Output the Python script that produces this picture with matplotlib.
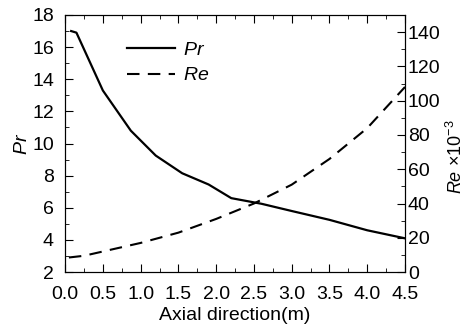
import numpy as np
import matplotlib.pyplot as plt
from matplotlib.ticker import MultipleLocator

plt.rcParams['font.family'] = ['Liberation Sans', 'DejaVu Sans']
plt.rcParams['mathtext.fontset'] = 'custom'
plt.rcParams['mathtext.it'] = 'Liberation Sans:italic'
plt.rcParams['mathtext.rm'] = 'Liberation Sans'

# Pr along the axial direction
x_pr = [0.08, 0.15, 0.5, 0.87, 1.2, 1.55, 1.9, 2.2, 2.6, 3.0, 3.5, 4.0, 4.5]
pr = [17.0, 16.9, 13.3, 10.8, 9.25, 8.15, 7.45, 6.6, 6.25, 5.8, 5.25, 4.6, 4.1]

# Re (x10^-3) along the axial direction
x_re = [0.05, 0.25, 0.5, 1.0, 1.5, 2.0, 2.5, 3.0, 3.5, 4.0, 4.5]
re = [8.5, 9.5, 12, 17, 23, 31, 40, 51, 66, 84, 108]

fig = plt.figure(figsize=(4.65, 3.33), dpi=100)
ax = fig.add_axes([0.14, 0.183, 0.731, 0.772])
ax2 = ax.twinx()

l1, = ax.plot(x_pr, pr, color='black', lw=1.6, label='$Pr$')
l2, = ax2.plot(x_re, re, color='black', lw=1.5, dashes=(6, 4), label='$Re$')

ax.set_xlim(0, 4.5)
ax.set_ylim(2, 18)
ax2.set_ylim(0, 150)

ax.xaxis.set_major_locator(MultipleLocator(0.5))
ax.xaxis.set_minor_locator(MultipleLocator(0.25))
ax.yaxis.set_major_locator(MultipleLocator(2))
ax.yaxis.set_minor_locator(MultipleLocator(1))
ax2.yaxis.set_major_locator(MultipleLocator(20))
ax2.yaxis.set_minor_locator(MultipleLocator(10))

fs = 14
ax.tick_params(axis='x', which='both', direction='in', top=True, labelsize=fs, pad=10)
ax.tick_params(axis='y', which='both', direction='in', labelsize=fs, pad=8)
ax.tick_params(which='major', length=6)
ax.tick_params(which='minor', length=3)
ax2.tick_params(axis='y', which='major', direction='in', length=6, labelsize=fs, pad=2)
ax2.tick_params(axis='y', which='minor', direction='in', length=3)
ax.xaxis.set_major_formatter(plt.FormatStrFormatter('%.1f'))

ax.set_xlabel('Axial direction(m)', fontsize=fs, labelpad=3)
ax.set_ylabel('$Pr$', fontsize=fs, labelpad=1)
ax2.set_ylabel('$Re$ ×10$^{-3}$', fontsize=13)
ax2.yaxis.set_label_coords(1.12, 0.45)

ax.legend([l1, l2], ['$Pr$', '$Re$'], loc='upper left', bbox_to_anchor=(0.13, 0.965),
          frameon=False, fontsize=fs, handlelength=2.5, handletextpad=0.4, labelspacing=0.4)

fig.savefig('out.png', dpi=100)
